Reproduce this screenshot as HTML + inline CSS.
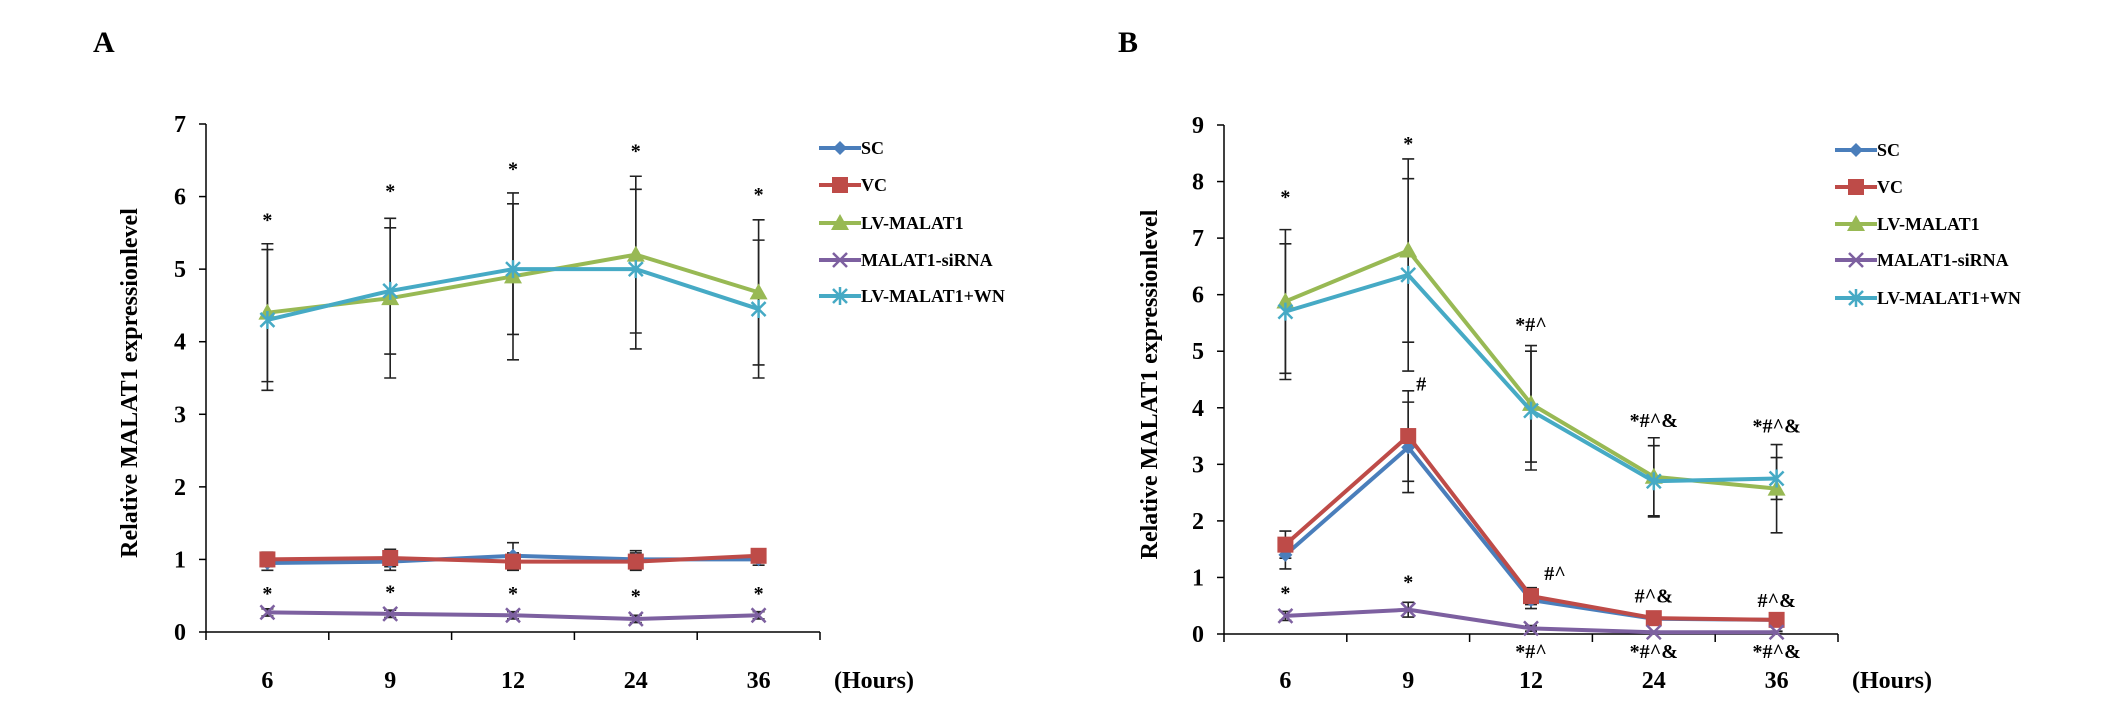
<!DOCTYPE html>
<html><head><meta charset="utf-8"><style>
html,body{margin:0;padding:0;background:#fff;width:2126px;height:715px;overflow:hidden}
svg text{font-family:"Liberation Serif",serif;font-weight:bold;fill:#000}
</style></head><body>
<svg id="fig" width="2126" height="715" viewBox="0 0 2126 715" xmlns="http://www.w3.org/2000/svg"></svg>
<script>
const categories=["6","9","12","24","36"];
const seriesNames=["SC","VC","LV-MALAT1","MALAT1-siRNA","LV-MALAT1+WN"];
const colors=["#4a7ebb","#be4b48","#98b954","#7d60a0","#46aac5"];
// Panel A
const aSC=[0.95,0.97,1.05,1.0,1.0];
const aVC=[1.0,1.02,0.97,0.97,1.05];
const aLV=[4.4,4.6,4.9,5.2,4.68];
const aSI=[0.27,0.25,0.23,0.18,0.23];
const aWN=[4.3,4.7,5.0,5.0,4.45];
const aErrSC=[0.1,0.12,0.18,0.12,0.08];
const aErrVC=[0.1,0.12,0.12,0.12,0.08];
const aErrLV=[0.95,1.1,1.15,1.08,1.0];
const aErrSI=[0.05,0.05,0.05,0.05,0.05];
const aErrWN=[0.97,0.87,0.9,1.1,0.95];
const aTicks=["0","1","2","3","4","5","6","7"];
const aAnnTop=["*","*","*","*","*"];
const aAnnTopY=[5.7,6.1,6.4,6.65,6.05];
const aAnnLow=["*","*","*","*","*"];
const aAnnLowY=[0.55,0.57,0.55,0.52,0.55];
// Panel B
const bSC=[1.4,3.3,0.6,0.27,0.25];
const bVC=[1.58,3.5,0.67,0.28,0.25];
const bLV=[5.88,6.78,4.07,2.78,2.57];
const bSI=[0.32,0.43,0.1,0.03,0.03];
const bWN=[5.7,6.35,3.95,2.7,2.75];
const bErrSC=[0.25,0.8,0.15,0.05,0.05];
const bErrVC=[0.24,0.8,0.15,0.05,0.05];
const bErrLV=[1.27,1.62,1.03,0.69,0.78];
const bErrSI=[0.08,0.13,0.05,0.02,0.02];
const bErrWN=[1.2,1.7,1.05,0.63,0.37];
const bTicks=["0","1","2","3","4","5","6","7","8","9"];
const bAnnTop=["*","*","*#^","*#^&","*#^&"];
const bAnnTopY=[7.75,8.7,5.5,3.8,3.7];
const bAnnMid=["","#","","",""];
const bAnnMidY=[0,4.45,0,0,0];
const bAnnLow=["*","*","","#^&","#^&"];
const bAnnLowY=[0.75,0.95,0,0.7,0.62];
const bAnnLowR=["","","#^","",""];
const bAnnLowRY=[0,0,1.1,0,0];
const bAnnBelow=["","","*#^","*#^&","*#^&"];

const NS="http://www.w3.org/2000/svg";
const svg=document.getElementById('fig');
function el(tag,attrs,parent,txt){const e=document.createElementNS(NS,tag);for(const k in attrs)e.setAttribute(k,attrs[k]);if(txt!==undefined)e.textContent=txt;(parent||svg).appendChild(e);return e;}

function marker(g,type,x,y,c){
  if(type===0){el('path',{d:`M${x} ${y-7}L${x+7} ${y}L${x} ${y+7}L${x-7} ${y}Z`,fill:c},g);}
  else if(type===1){el('rect',{x:x-8,y:y-8,width:16,height:16,fill:c},g);}
  else if(type===2){el('path',{d:`M${x} ${y-9}L${x+9} ${y+7}L${x-9} ${y+7}Z`,fill:c},g);}
  else if(type===3){el('path',{d:`M${x-7} ${y-7}L${x+7} ${y+7}M${x+7} ${y-7}L${x-7} ${y+7}`,stroke:c,'stroke-width':2.5},g);}
  else {el('path',{d:`M${x-7} ${y-7}L${x+7} ${y+7}M${x+7} ${y-7}L${x-7} ${y+7}M${x} ${y-9}L${x} ${y+9}`,stroke:c,'stroke-width':2.5},g);}
}

function panel(o){
  const g=el('g',{});
  
  
  const yS=v=>o.y0-(v/o.ymax)*(o.y0-o.yTop);
  const bw=(o.xEnd-o.ax)/categories.length;
  const xS=i=>o.ax+bw*(i+0.5);
  const lt=el('text',{x:o.labelX,y:52,'font-size':30},g,o.label);
  
  const ya=el('line',{x1:o.ax,y1:o.yTop,x2:o.ax,y2:o.y0,stroke:'#000','stroke-width':1.5},g);
  
  const xa=el('line',{x1:o.ax,y1:o.y0,x2:o.xEnd,y2:o.y0,stroke:'#000','stroke-width':1.5},g);
  
  o.ticks.forEach((t,i)=>{const v=+t;const y=yS(v);
    el('line',{x1:o.ax-7,y1:y,x2:o.ax,y2:y,stroke:'#000','stroke-width':1.5},g);
    const tx=el('text',{x:o.ax-20,y:y+8,'font-size':24,'text-anchor':'end'},g,t);
    });
  for(let i=0;i<=categories.length;i++){const x=o.ax+bw*i;el('line',{x1:x,y1:o.y0,x2:x,y2:o.y0+8,stroke:'#000','stroke-width':1.5},g);}
  categories.forEach((c,i)=>{const tx=el('text',{x:xS(i),y:688,'font-size':24,'text-anchor':'middle'},g,c);
    });
  const hr=el('text',{x:o.xEnd+14,y:688,'font-size':24},g,'(Hours)');
  
  const yt=el('text',{x:0,y:0,'font-size':24,'text-anchor':'middle',transform:`translate(${o.titleX},${(o.yTop+o.y0)/2+5}) rotate(-90)`},g,'Relative MALAT1 expressionlevel');
  
  o.series.forEach((s,si)=>{s.forEach((v,i)=>{const e=o.errs[si][i];const x=xS(i);
    const eb=el('path',{d:`M${x} ${yS(v-e)}L${x} ${yS(v+e)}M${x-6} ${yS(v-e)}L${x+6} ${yS(v-e)}M${x-6} ${yS(v+e)}L${x+6} ${yS(v+e)}`,stroke:'#222','stroke-width':1.6,fill:'none'},g);
    });});
  o.series.forEach((s,si)=>{
    const d=s.map((v,i)=>(i?'L':'M')+xS(i)+' '+yS(v)).join('');
    const p=el('path',{d:d,stroke:colors[si],'stroke-width':4,fill:'none'},g);
    
    s.forEach((v,i)=>marker(g,si,xS(i),yS(v),colors[si]));
  });
  o.anns.forEach(a=>{a.t.forEach((t,i)=>{if(!t)return;
    const y=a.y?yS(a.y[i]):a.abs;const x=xS(i)+(a.dx||0);
    const tx=el('text',{x:x,y:y+8,'font-size':20,'text-anchor':a.anchor||'middle',fill:'#222'},g,t);
    });});
  seriesNames.forEach((n,si)=>{const y=o.legY[si];
    const lg=el('g',{},g);
    
    el('line',{x1:o.legX,y1:y,x2:o.legX+42,y2:y,stroke:colors[si],'stroke-width':4},lg);
    marker(lg,si,o.legX+21,y,colors[si]);
    el('text',{x:o.legX+42,y:y+6,'font-size':18},lg,n);
  });
}

panel({name:'panel-a-chart',label:'A',labelX:93,ax:206,y0:632,yTop:124,xEnd:820,ymax:7,ticks:aTicks,titleX:137,
  series:[aSC,aVC,aLV,aSI,aWN],errs:[aErrSC,aErrVC,aErrLV,aErrSI,aErrWN],
  anns:[{t:aAnnTop,y:aAnnTopY},{t:aAnnLow,y:aAnnLowY}],
  legX:819,legY:[148,185,223,260,296]});
panel({name:'panel-b-chart',label:'B',labelX:1118,ax:1224,y0:634,yTop:125,xEnd:1838,ymax:9,ticks:bTicks,titleX:1157,
  series:[bSC,bVC,bLV,bSI,bWN],errs:[bErrSC,bErrVC,bErrLV,bErrSI,bErrWN],
  anns:[{t:bAnnTop,y:bAnnTopY},{t:bAnnMid,y:bAnnMidY,dx:8,anchor:'start'},{t:bAnnLow,y:bAnnLowY},{t:bAnnLowR,y:bAnnLowRY,dx:24},{t:bAnnBelow,abs:650}],
  legX:1835,legY:[150,187,224,260,298]});
</script>
</body></html>
